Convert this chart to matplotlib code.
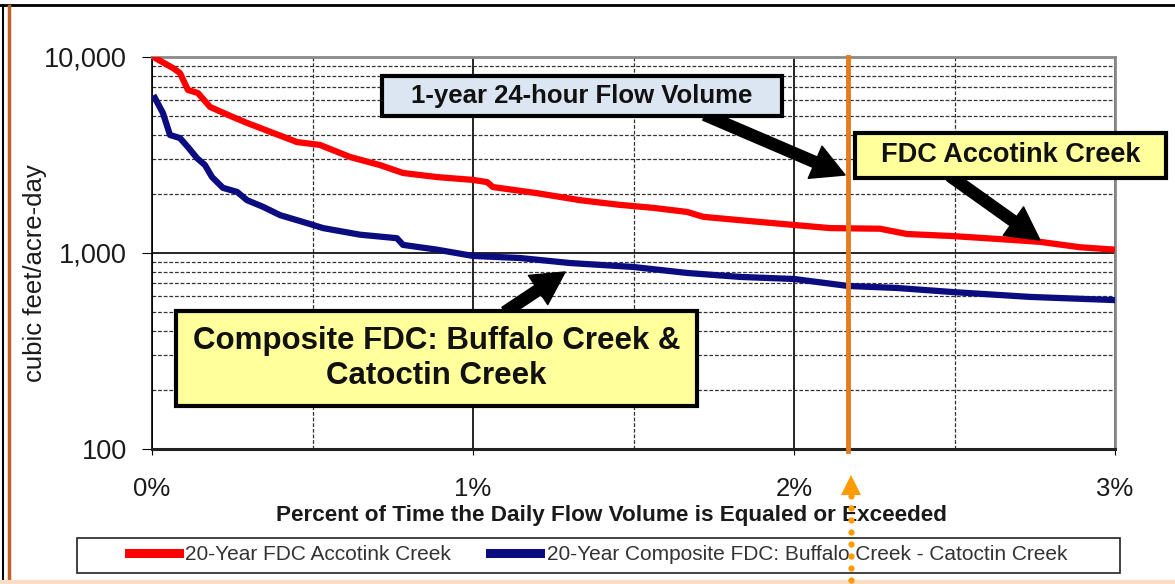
import numpy as np
import matplotlib
matplotlib.use('Agg')
import matplotlib.pyplot as plt
import matplotlib.transforms as mtransforms
from matplotlib.lines import Line2D
from matplotlib.patches import Rectangle
from matplotlib.ticker import FixedLocator, LogLocator, NullFormatter

plt.rcParams['font.family'] = ['Liberation Sans', 'DejaVu Sans']

# flow duration curves
# x = percent of time equaled or exceeded, y = cubic feet / acre-day
accotink_pct = [0.009, 0.065, 0.087, 0.112, 0.143, 0.181, 0.252, 0.296, 0.377,
                0.452, 0.523, 0.617, 0.710, 0.782, 0.888, 1.0, 1.044, 1.062,
                1.199, 1.333, 1.458, 1.561, 1.667, 1.717, 1.832, 2.0, 2.112,
                2.268, 2.352, 2.495, 2.632, 2.766, 2.891, 3.0]
accotink_cfs = [9900, 8790, 8290, 6790, 6550, 5560, 4940, 4610, 4100,
                3680, 3560, 3090, 2810, 2560, 2440, 2360, 2300, 2170,
                2020, 1860, 1760, 1700, 1620, 1530, 1470, 1390, 1340,
                1330, 1250, 1220, 1180, 1140, 1070, 1040]

composite_pct = [0.009, 0.034, 0.056, 0.087, 0.112, 0.140, 0.165, 0.187, 0.221,
                 0.265, 0.296, 0.346, 0.399, 0.483, 0.533, 0.648, 0.763, 0.782,
                 0.888, 1.0, 1.146, 1.302, 1.498, 1.667, 1.832, 2.0, 2.168,
                 2.321, 2.495, 2.735, 3.0]
composite_cfs = [6180, 5180, 4000, 3860, 3470, 3050, 2810, 2440, 2150,
                 2050, 1860, 1720, 1560, 1420, 1340, 1240, 1190, 1100,
                 1040, 966, 943, 889, 849, 791, 755, 737, 679,
                 663, 632, 597, 575]

flow_1yr_pct = 2.168  # 1-year 24-hour flow volume

x_ticks = [0, 1, 2, 3]
x_labels = ['0%', '1%', '2%', '3%']
y_ticks = [100, 1000, 10000]
y_labels = ['100', '1,000', '10,000']

W, H = 1175, 584


def fp(x, y):
    # figure pixel (from top-left) -> figure fraction
    return (x / W, 1 - y / H)


fig = plt.figure(figsize=(W / 100, H / 100), dpi=100)
fig.patch.set_facecolor('white')
ax = fig.add_axes([152 / W, 1 - 449 / H, (1115 - 152) / W, (449 - 57) / H])

ax.set_yscale('log')
ax.set_xlim(0, 3)
ax.set_ylim(100, 10000)

ax.set_xticks(x_ticks)
ax.set_xticklabels(x_labels)
ax.set_yticks(y_ticks)
ax.set_yticklabels(y_labels)
ax.xaxis.set_minor_locator(FixedLocator([0.5, 1.5, 2.5]))
ax.yaxis.set_minor_locator(LogLocator(base=10, subs=range(2, 10)))
ax.yaxis.set_minor_formatter(NullFormatter())

ax.tick_params(axis='x', which='major', length=4, pad=16, labelsize=18.5, color='black')
ax.tick_params(axis='y', which='major', length=7, pad=11, labelsize=19.5, color='black')
ax.tick_params(which='minor', length=0)
for lab in ax.get_xticklabels() + ax.get_yticklabels():
    lab.set_color('#1a1a1a')

# grid
ax.grid(which='major', axis='both', color='black', lw=1.2, zorder=0)
ax.grid(which='minor', axis='y', color='#333333', lw=0.9, ls=(0, (3, 1.5)), zorder=0)
ax.grid(which='minor', axis='x', color='#333333', lw=0.9, ls=(0, (3, 1.5)), zorder=0)
ax.set_axisbelow(True)

ax.spines['top'].set_color('#8a8a8a')
ax.spines['right'].set_color('#8a8a8a')
ax.spines['top'].set_linewidth(2)
ax.spines['right'].set_linewidth(2)
ax.spines['left'].set_color('black')
ax.spines['left'].set_linewidth(1.2)
ax.spines['bottom'].set_color('#222222')
ax.spines['bottom'].set_linewidth(2.2)

# curves
l1, = ax.plot(accotink_pct, accotink_cfs, color='#ff0000', lw=4.5, zorder=3,
              solid_joinstyle='round', label='20-Year FDC Accotink Creek')
l2, = ax.plot(composite_pct, composite_cfs, color='#0b0c80', lw=4.5, zorder=3,
              solid_joinstyle='round',
              label='20-Year Composite FDC: Buffalo Creek - Catoctin Creek')

# 1-year flow volume marker
ax.axvline(flow_1yr_pct, ymin=-0.006, ymax=1, color='#e47b1e', lw=3.5, zorder=4,
           clip_on=False)

# axis titles
fig.text(35 / W, 1 - 273 / H, 'cubic feet/acre-day', rotation=90, ha='center',
         va='center', fontsize=18.5, color='#1a1a1a')
fig.text(611 / W, 1 - 516 / H,
         'Percent of Time the Daily Flow Volume is Equaled or Exceeded',
         ha='center', va='center', fontsize=16.2, fontweight='bold', color='#1a1a1a')

# callout arrows
arrow_kw = dict(arrowstyle='simple,head_length=1.3,head_width=1.4,tail_width=0.45',
                color='black', mutation_scale=18, shrinkA=0, shrinkB=0)

ax.annotate('', xy=(2.159, 2500), xycoords='data',
            xytext=fp(705, 115), textcoords='figure fraction',
            arrowprops=arrow_kw, zorder=6, annotation_clip=False)
ax.annotate('', xy=(2.766, 1165), xycoords='data',
            xytext=fp(950, 176), textcoords='figure fraction',
            arrowprops=arrow_kw, zorder=6, annotation_clip=False)
ax.annotate('', xy=(1.287, 800), xycoords='data',
            xytext=fp(505, 312), textcoords='figure fraction',
            arrowprops=arrow_kw, zorder=6, annotation_clip=False)


def callout(x0, y0, x1, y1, face, text, size):
    fig.add_artist(Rectangle(fp(x0, y1), (x1 - x0) / W, (y1 - y0) / H,
                             transform=fig.transFigure, facecolor=face,
                             edgecolor='black', lw=3, zorder=7))
    fig.text((x0 + x1) / 2 / W, 1 - (y0 + y1) / 2 / H, text, ha='center',
             va='center', fontsize=size, fontweight='bold', color='#111111',
             linespacing=1.2, zorder=8)


callout(382, 76, 782, 116, '#dce6f2', '1-year 24-hour Flow Volume', 18.5)
callout(855, 133, 1166, 178, '#ffff9c', 'FDC Accotink Creek', 19.5)
callout(176, 311, 697, 406, '#ffff9c', 'Composite FDC: Buffalo Creek &\nCatoctin Creek', 22.5)

# legend
fig.add_artist(Rectangle(fp(77, 573), (1120 - 77) / W, (573 - 538) / H,
                         transform=fig.transFigure, facecolor='white',
                         edgecolor='#222222', lw=1.2, zorder=1))
fig.legend(handles=[l1, l2], loc='center', bbox_to_anchor=fp(598, 555), ncol=2,
           frameon=False, fontsize=15, handlelength=2.4, handletextpad=0.3,
           columnspacing=1.9, labelcolor='#333333')
for h in fig.legends[0].legend_handles:
    h.set_linewidth(6.5)

# dotted orange pointer under the axis, drawn over the legend and x title
trans = mtransforms.blended_transform_factory(ax.transData, fig.transFigure)
dot_y = 1 - np.arange(496, 583, 12) / H
fig.add_artist(Line2D([flow_1yr_pct + 0.01] * len(dot_y), dot_y, transform=trans,
                      ls='none', marker='o', markersize=4.5, color='#ff9a00',
                      markeredgewidth=0, zorder=12))
fig.add_artist(Line2D([flow_1yr_pct + 0.01], [1 - 485 / H], transform=trans,
                      marker='^', markersize=14, color='#ff9a00',
                      markeredgewidth=0, zorder=12))

# page border
fig.add_artist(Line2D([0, 1], [1 - 5 / H] * 2, transform=fig.transFigure,
                      color='black', lw=2))
fig.add_artist(Line2D([3 / W] * 2, [0, 1 - 5 / H], transform=fig.transFigure,
                      color='black', lw=1.5))
fig.add_artist(Line2D([8.5 / W] * 2, [0, 1 - 6 / H], transform=fig.transFigure,
                      color='#c0622a', lw=2.5))
fig.add_artist(Line2D([0, 1], [1 - 582 / H] * 2, transform=fig.transFigure,
                      color='#fbdcc4', lw=3))

fig.savefig('out.png', dpi=100)
